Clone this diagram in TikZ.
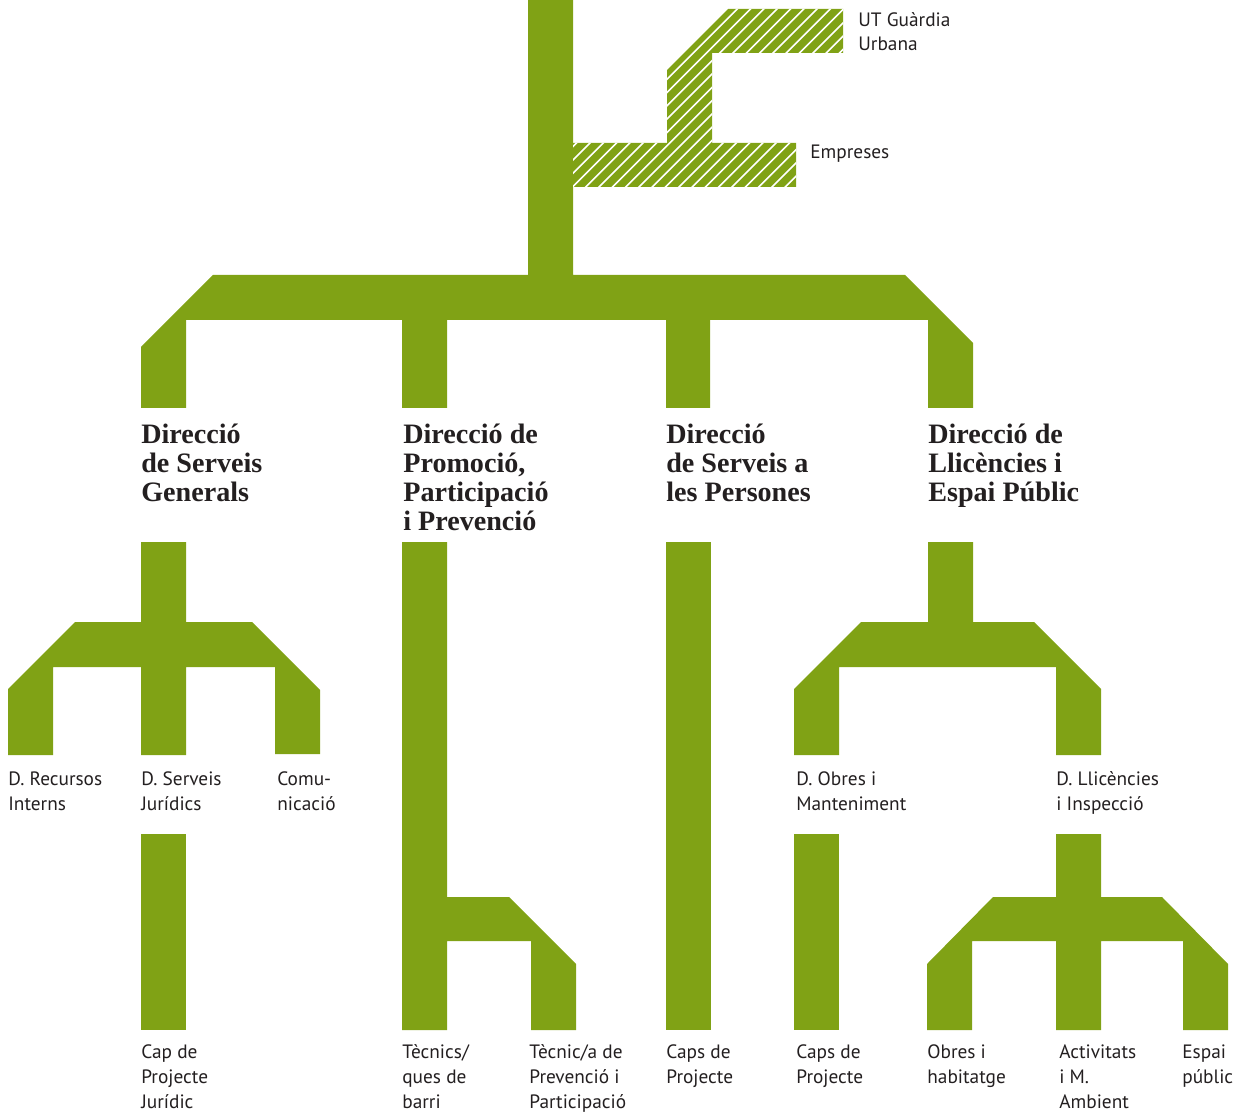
\documentclass[tikz,border=0pt]{standalone}
\usepackage{fontspec}
\setmainfont{Liberation Serif}
\newfontfamily\etiquetafont{PT Sans}
\definecolor{verd}{RGB}{128,162,21}
\definecolor{tinta}{RGB}{35,31,32}
\begin{document}
\begin{tikzpicture}[x=0.02cm,y=-0.02cm]
\tikzset{branca/.style={fill=verd},
  ratlla/.style={draw=white, line width=0.9pt},
  direccio/.style={anchor=base west, inner sep=0, align=left, text=tinta, font=\bfseries\fontsize{16}{16.4}\selectfont},
  etiqueta/.style={anchor=base west, inner sep=0, align=left, text=tinta, font=\etiquetafont\fontsize{11}{14.2}\selectfont}}
\useasboundingbox (0,0) rectangle (1237,1114);
\fill[branca] (528,0) -- (573,0) -- (573,275) -- (905,275) -- (973,343) -- (973,408) -- (928,408) -- (928,320) -- (710,320) -- (710,408) -- (666,408) -- (666,320) -- (447,320) -- (447,408) -- (402,408) -- (402,320) -- (186,320) -- (186,408) -- (141,408) -- (141,347) -- (213,275) -- (528,275) -- cycle;
\fill[branca] (573,143) -- (667,143) -- (667,70) -- (728,9) -- (843,9) -- (843,53) -- (712,53) -- (712,143) -- (796,143) -- (796,187) -- (573,187) -- cycle;
\begin{scope}
\clip (573,143) -- (667,143) -- (667,70) -- (728,9) -- (843,9) -- (843,53) -- (712,53) -- (712,143) -- (796,143) -- (796,187) -- (573,187) -- cycle;
\foreach \k in {0,...,38}
  \draw[ratlla] (360+\k*13.3,200) -- ++(220,-220);
\end{scope}
\node[etiqueta] (ut) at (858,51) {UT Guàrdia\\Urbana};
\node[etiqueta] (empreses) at (810,159) {Empreses};
\node[direccio] (dsg) at (141,501) {Direcció\\de Serveis\\Generals};
\node[direccio] (dppp) at (403,530) {Direcció de\\Promoció,\\Participació\\i Prevenció};
\node[direccio] (dsp) at (666,501) {Direcció\\de Serveis a\\les Persones};
\node[direccio] (dlep) at (928,501) {Direcció de\\Llicències i\\Espai Públic};
\fill[branca] (141,542) -- (186,542) -- (186,622) -- (252,622) -- (320,690) -- (320,754) -- (275,754) -- (275,667) -- (186,667) -- (186,755) -- (141,755) -- (141,667) -- (53,667) -- (53,755) -- (8,755) -- (8,689) -- (75,622) -- (141,622) -- cycle;
\fill[branca] (141,834) rectangle (186,1030);
\fill[branca] (402,542) -- (447,542) -- (447,897) -- (509,897) -- (576,964) -- (576,1030) -- (531,1030) -- (531,941) -- (447,941) -- (447,1030) -- (402,1030) -- cycle;
\fill[branca] (666,542) rectangle (711,1030);
\fill[branca] (928,542) -- (973,542) -- (973,622) -- (1034,622) -- (1101,689) -- (1101,755) -- (1056,755) -- (1056,667) -- (839,667) -- (839,755) -- (794,755) -- (794,689) -- (861,622) -- (928,622) -- cycle;
\fill[branca] (794,834) rectangle (839,1030);
\fill[branca] (1056,834) -- (1101,834) -- (1101,897) -- (1162,897) -- (1228,964) -- (1228,1030) -- (1183,1030) -- (1183,941) -- (1101,941) -- (1101,1030) -- (1056,1030) -- (1056,941) -- (972,941) -- (972,1030) -- (927,1030) -- (927,964) -- (993,897) -- (1056,897) -- cycle;
\node[etiqueta] (recursos) at (8,810) {D. Recursos\\Interns};
\node[etiqueta] (juridics) at (141,810) {D. Serveis\\Jurídics};
\node[etiqueta] (comunicacio) at (277,810) {Comu-\\nicació};
\node[etiqueta] (obres) at (796,810) {D. Obres i\\Manteniment};
\node[etiqueta] (llicencies) at (1056,810) {D. Llicències\\i Inspecció};
\node[etiqueta] (capjuridic) at (141,1108) {Cap de\\Projecte\\Jurídic};
\node[etiqueta] (tecnics) at (402,1108) {Tècnics/\\ques de\\barri};
\node[etiqueta] (prevencio) at (529,1108) {Tècnic/a de\\Prevenció i\\Participació};
\node[etiqueta] (capspersones) at (666,1083) {Caps de\\Projecte};
\node[etiqueta] (capsobres) at (796,1083) {Caps de\\Projecte};
\node[etiqueta] (habitatge) at (927,1083) {Obres i\\habitatge};
\node[etiqueta] (activitats) at (1059,1108) {Activitats\\i M.\\Ambient};
\node[etiqueta] (espai) at (1182,1083) {Espai\\públic};
\end{tikzpicture}
\end{document}
